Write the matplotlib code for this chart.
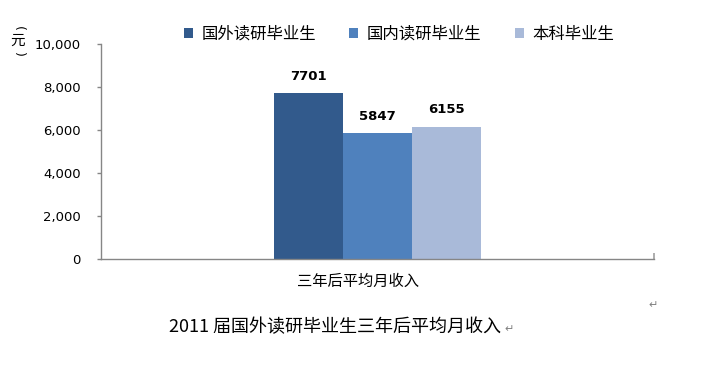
import matplotlib
matplotlib.use("Agg")
import matplotlib.pyplot as plt
from matplotlib.patches import Patch
from matplotlib.ticker import FuncFormatter, FixedLocator

plt.rcParams['font.family'] = ['Noto Sans CJK SC', 'DejaVu Sans']

series = ['国外读研毕业生', '国内读研毕业生', '本科毕业生']
values = [7701, 5847, 6155]
colors = ['#325A8C', '#4F81BD', '#A9BAD9']
category = '三年后平均月收入'
yticks = [0, 2000, 4000, 6000, 8000, 10000]
caption = '2011 届国外读研毕业生三年后平均月收入'

W, H = 724, 365
fig = plt.figure(figsize=(W / 100, H / 100), dpi=100)
ax = fig.add_axes([101 / W, 1 - 259 / H, (654 - 101) / W, (259 - 44) / H])

bw = 0.1248
offsets = [-bw, 0.0, bw]
for s, v, c, o in zip(series, values, colors, offsets):
    ax.bar(o, v, width=bw, color=c, label=s, zorder=2)
    ax.annotate(str(v), xy=(o, v), xytext=(0, 7.5), textcoords='offset points',
                ha='center', va='bottom', fontsize=9.5, fontweight='bold',
                family='DejaVu Sans', color='black')

ax.set_xlim(-0.5, 0.5)
ax.set_ylim(0, 10000)
ax.set_yticks(yticks)
ax.yaxis.set_major_formatter(FuncFormatter(lambda v, p: f'{int(v):,}'))
ax.tick_params(axis='y', direction='out', length=3, width=1, color='#868686',
               pad=11.5, labelsize=9.5, labelfontfamily='DejaVu Sans')
ax.set_xticks([])
ax.xaxis.set_minor_locator(FixedLocator([0.5]))
ax.tick_params(axis='x', which='minor', direction='in', length=4.5, width=1.2,
               color='#A0A0A0')
for side in ['top', 'right']:
    ax.spines[side].set_visible(False)
for side in ['left', 'bottom']:
    ax.spines[side].set_color('#868686')
    ax.spines[side].set_linewidth(1)

fig.text(358 / W, 1 - 281 / H, category, ha='center', va='center', fontsize=11)

# vertical unit label: (元) in vertical layout
fig.text(18 / W, 1 - 28 / H, '(', ha='center', va='center', fontsize=9,
         rotation=-90, family='DejaVu Sans')
fig.text(18 / W, 1 - 41 / H, '元', ha='center', va='center', fontsize=10.5)
fig.text(18 / W, 1 - 54 / H, ')', ha='center', va='center', fontsize=9,
         rotation=-90, family='DejaVu Sans')

handles = [Patch(facecolor=c, edgecolor='none') for c in colors]
fig.legend(handles, series, loc='center', bbox_to_anchor=(399 / W, 1 - 34 / H),
           ncol=3, frameon=False, fontsize=11.8, handlelength=0.55,
           handleheight=0.55, handletextpad=0.5, columnspacing=2.05,
           borderpad=0, borderaxespad=0)

fig.text(335 / W, 1 - 327 / H, caption, ha='center', va='center', fontsize=13)
fig.text(504 / W, 1 - 329 / H, '↵', ha='left', va='center', fontsize=8,
         color='#808080', family='DejaVu Sans')
fig.text(653 / W, 1 - 305 / H, '↵', ha='center', va='center', fontsize=8,
         color='#808080', family='DejaVu Sans')

fig.savefig('out.png', dpi=100)
